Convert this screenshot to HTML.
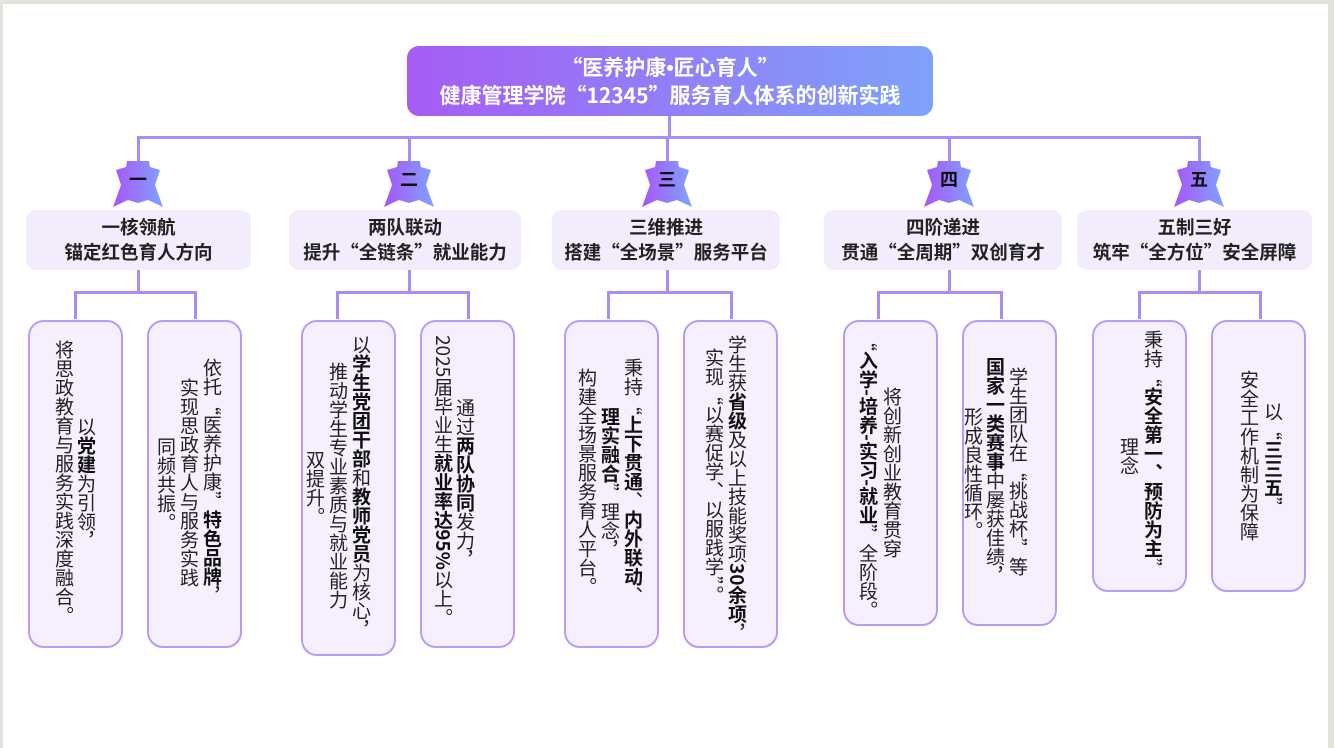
<!DOCTYPE html>
<html><head><meta charset="utf-8">
<style>
*{margin:0;padding:0;box-sizing:border-box}
html,body{width:1334px;height:748px;overflow:hidden;background:#e2e4dc}
#pg{position:absolute;left:3px;top:4px;width:1325px;height:744px;background:#fff}
.ln{position:absolute;background:#a98cf5}
.hdr{position:absolute;left:407px;top:46px;width:526px;height:70px;border-radius:12px;background:linear-gradient(90deg,#a65cf3,#7ea2fb);color:#fff;font:bold 21px/27px "Noto Sans CJK SC","Liberation Sans",sans-serif;text-align:center;padding-top:8px;white-space:nowrap}
.hdr i{font-style:normal;font-family:"Liberation Sans",sans-serif}
.cat{position:absolute;top:210px;height:60px;border-radius:10px;background:#f3ecfd;font:bold 18.5px/25px "Noto Sans CJK SC","Liberation Sans",sans-serif;color:#222;text-align:center;padding-top:5px;white-space:nowrap}
.leaf{position:absolute;top:320px;border:2px solid #b99af5;border-radius:16px;background:#f6effe;width:95px}
.c{position:absolute;writing-mode:vertical-rl;font:19px/20px "Noto Sans CJK SC","Liberation Sans",sans-serif;color:#222;white-space:nowrap;width:20px}
.c b{font-weight:bold;color:#111}
.bd{position:absolute;top:160px;width:52px;height:48px}
.bt{position:absolute;top:167px;width:52px;text-align:center;font:bold 18px/24px "Noto Sans CJK SC","Liberation Sans",sans-serif;color:#111}
</style></head><body><div id="pg"></div>
<svg width="0" height="0" style="position:absolute"><defs><linearGradient id="g" x1="0" x2="1"><stop offset="0" stop-color="#a855f7"/><stop offset="1" stop-color="#7fa3ff"/></linearGradient></defs></svg>

<div class="hdr">“医养护康<i>•</i>匠心育人”<br>健康管理学院“12345”服务育人体系的创新实践</div>

<div class="ln" style="left:137px;top:136px;width:1064px;height:3px"></div>
<div class="ln" style="left:668px;top:116px;width:3px;height:21px"></div>

<div class="ln" style="left:137px;top:136px;width:3px;height:26px"></div>
<div class="ln" style="left:408px;top:136px;width:3px;height:26px"></div>
<div class="ln" style="left:666px;top:136px;width:3px;height:26px"></div>
<div class="ln" style="left:948px;top:136px;width:3px;height:26px"></div>
<div class="ln" style="left:1198px;top:136px;width:3px;height:26px"></div>

<svg class="bd" style="left:112px" viewBox="0 0 52 48"><polygon fill="url(#g)" points="15,1 37,1 38,7 48,10 43,25 51,47 36,40 26,43 16,40 1,47 9,25 4,10 14,7"/></svg><div class="bt" style="left:112px">一</div>
<svg class="bd" style="left:383px" viewBox="0 0 52 48"><polygon fill="url(#g)" points="15,1 37,1 38,7 48,10 43,25 51,47 36,40 26,43 16,40 1,47 9,25 4,10 14,7"/></svg><div class="bt" style="left:383px">二</div>
<svg class="bd" style="left:641px" viewBox="0 0 52 48"><polygon fill="url(#g)" points="15,1 37,1 38,7 48,10 43,25 51,47 36,40 26,43 16,40 1,47 9,25 4,10 14,7"/></svg><div class="bt" style="left:641px">三</div>
<svg class="bd" style="left:923px" viewBox="0 0 52 48"><polygon fill="url(#g)" points="15,1 37,1 38,7 48,10 43,25 51,47 36,40 26,43 16,40 1,47 9,25 4,10 14,7"/></svg><div class="bt" style="left:923px">四</div>
<svg class="bd" style="left:1173px" viewBox="0 0 52 48"><polygon fill="url(#g)" points="15,1 37,1 38,7 48,10 43,25 51,47 36,40 26,43 16,40 1,47 9,25 4,10 14,7"/></svg><div class="bt" style="left:1173px">五</div>

<div class="cat" style="left:26px;width:225px">一核领航<br>锚定红色育人方向</div>
<div class="cat" style="left:289px;width:232px">两队联动<br>提升“全链条”就业能力</div>
<div class="cat" style="left:552px;width:228px">三维推进<br>搭建“全场景”服务平台</div>
<div class="cat" style="left:824px;width:238px">四阶递进<br>贯通“全周期”双创育才</div>
<div class="cat" style="left:1077px;width:235px">五制三好<br>筑牢“全方位”安全屏障</div>

<div class="ln" style="left:137px;top:270px;width:3px;height:23px"></div>
<div class="ln" style="left:74px;top:291px;width:123px;height:3px"></div>
<div class="ln" style="left:74px;top:291px;width:3px;height:28px"></div>
<div class="ln" style="left:194px;top:291px;width:3px;height:28px"></div>

<div class="ln" style="left:408px;top:270px;width:3px;height:23px"></div>
<div class="ln" style="left:336px;top:291px;width:134px;height:3px"></div>
<div class="ln" style="left:336px;top:291px;width:3px;height:28px"></div>
<div class="ln" style="left:467px;top:291px;width:3px;height:28px"></div>

<div class="ln" style="left:666px;top:270px;width:3px;height:23px"></div>
<div class="ln" style="left:607px;top:291px;width:126px;height:3px"></div>
<div class="ln" style="left:607px;top:291px;width:3px;height:28px"></div>
<div class="ln" style="left:730px;top:291px;width:3px;height:28px"></div>

<div class="ln" style="left:948px;top:270px;width:3px;height:23px"></div>
<div class="ln" style="left:877px;top:291px;width:126px;height:3px"></div>
<div class="ln" style="left:877px;top:291px;width:3px;height:28px"></div>
<div class="ln" style="left:1000px;top:291px;width:3px;height:28px"></div>

<div class="ln" style="left:1198px;top:270px;width:3px;height:23px"></div>
<div class="ln" style="left:1138px;top:291px;width:124px;height:3px"></div>
<div class="ln" style="left:1138px;top:291px;width:3px;height:28px"></div>
<div class="ln" style="left:1259px;top:291px;width:3px;height:28px"></div>

<div class="leaf" style="left:28px;height:328px"></div>
<div class="leaf" style="left:147px;height:328px"></div>
<div class="leaf" style="left:301px;height:336px"></div>
<div class="leaf" style="left:420px;height:328px"></div>
<div class="leaf" style="left:564px;height:328px"></div>
<div class="leaf" style="left:683px;height:328px"></div>
<div class="leaf" style="left:843px;height:306px"></div>
<div class="leaf" style="left:962px;height:306px"></div>
<div class="leaf" style="left:1092px;height:272px"></div>
<div class="leaf" style="left:1211px;height:272px"></div>

<div class="c" style="left:54px;top:340px">将思政教育与服务实践深度融合。</div>
<div class="c" style="left:76px;top:417px">以<b>党建</b>为引领，</div>

<div class="c" style="left:202px;top:358px">依托“医养护康”<b>特色品牌</b>，</div>
<div class="c" style="left:179px;top:378px">实现思政育人与服务实践</div>
<div class="c" style="left:156px;top:437px">同频共振。</div>

<div class="c" style="left:351px;top:335px">以<b>学生党团干部</b>和<b>教师党员</b>为核心，</div>
<div class="c" style="left:328px;top:362px">推动学生专业素质与就业能力</div>
<div class="c" style="left:305px;top:450px">双提升。</div>

<div class="c" style="left:455px;top:398px">通过<b>两队协同</b>发力，</div>
<div class="c" style="left:433px;top:335px">2025届毕业生<b>就业率达95%</b>以上。</div>

<div class="c" style="left:623px;top:358px">秉持“<b>上下贯通</b>、<b>内外联动</b>、</div>
<div class="c" style="left:600px;top:407px"><b>理实融合</b>”理念，</div>
<div class="c" style="left:577px;top:368px">构建全场景服务育人平台。</div>

<div class="c" style="left:727px;top:335px">学生获<b>省级</b>及以上技能奖项<b>30余项</b>，</div>
<div class="c" style="left:704px;top:348px">实现“以赛促学、以服践学”。</div>

<div class="c" style="left:882px;top:387px">将创新创业教育贯穿</div>
<div class="c" style="left:858px;top:332px">“<b>入学-培养-实习-就业</b>”全阶段。</div>

<div class="c" style="left:1008px;top:367px">学生团队在“挑战杯”等</div>
<div class="c" style="left:985px;top:357px"><b>国家一类赛事</b>中屡获佳绩，</div>
<div class="c" style="left:963px;top:407px">形成良性循环。</div>

<div class="c" style="left:1143px;top:330px">秉持“<b>安全第一、预防为主</b>”</div>
<div class="c" style="left:1119px;top:437px">理念</div>

<div class="c" style="left:1263px;top:402px">以“<b>三三五</b>”</div>
<div class="c" style="left:1239px;top:370px">安全工作机制为保障</div>
</body></html>
